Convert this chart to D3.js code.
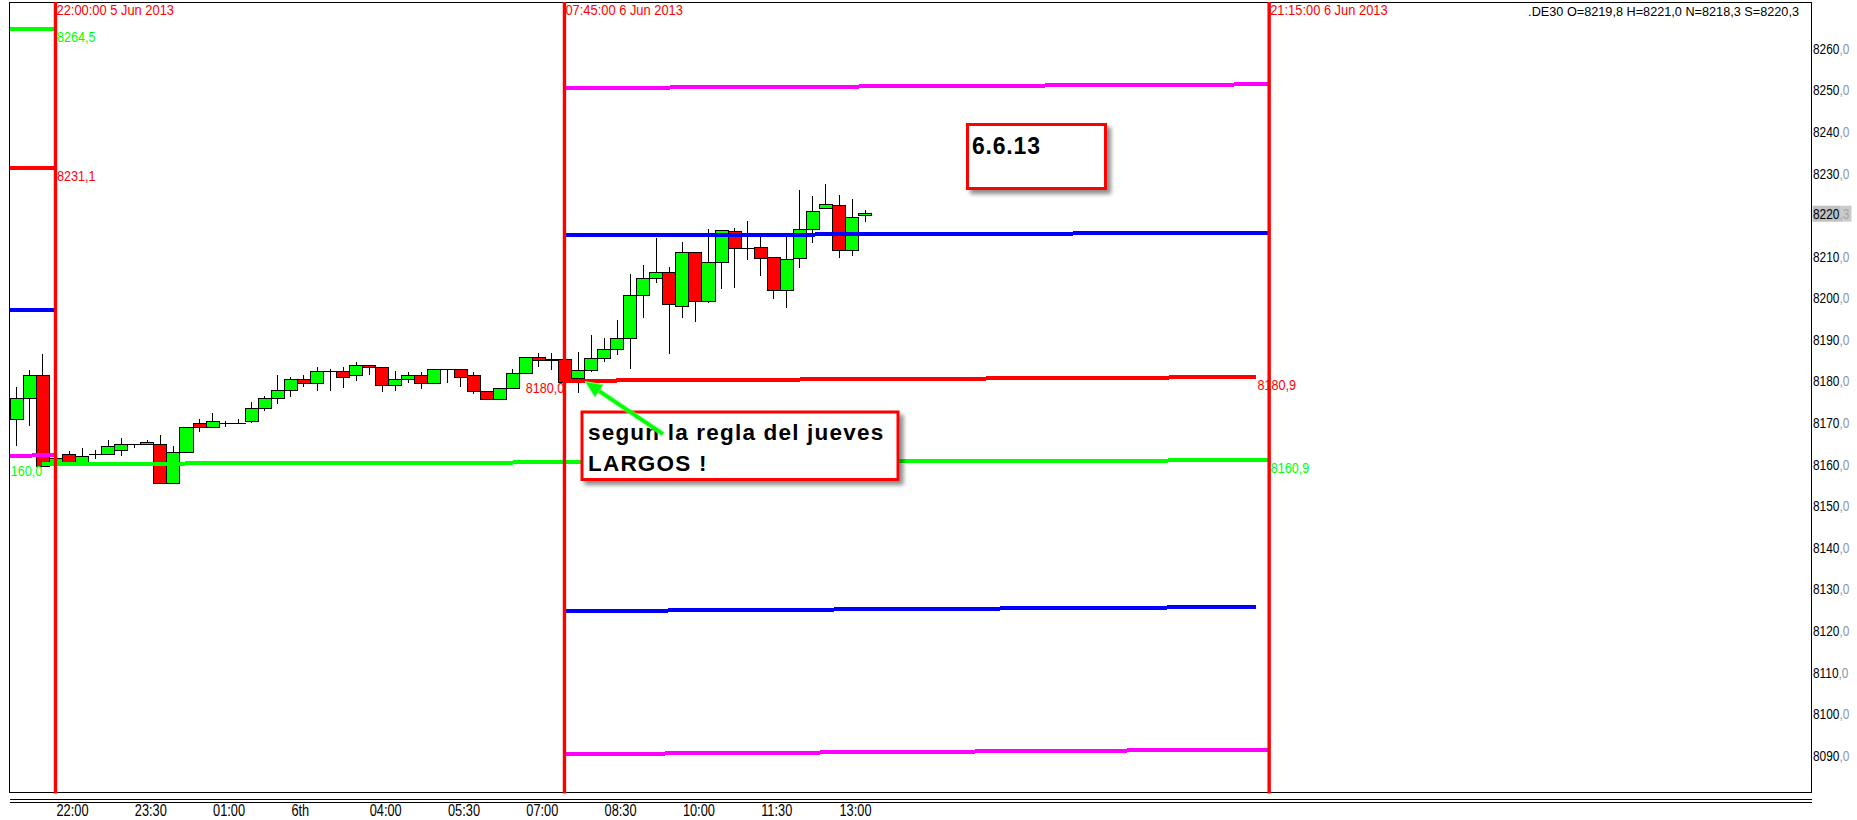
<!DOCTYPE html>
<html><head><meta charset="utf-8">
<script src="https://cdn.jsdelivr.net/npm/d3@7"></script>
<style>
html,body{margin:0;padding:0;background:#fff;}
svg{display:block;}
text{font-family:"Liberation Sans",Arial,sans-serif;}
</style></head><body>
<svg id="chart" width="1857" height="820"></svg>
<script>
// ---------------- DATA ----------------
const firstCandle = "2013-06-05T21:15:00";   // 15-minute candles, .DE30
const open  = [8170.7,8175.8,8181.4,8159.8,8162.3,8160.2,8162.3,8162.3,8163.3,8164.7,8164.7,8164.7,8155.35,8162.8,8169.8,8168.8,8169.8,8169.8,8170.3,8173.4,8175.8,8177.7,8180.4,8179.4,8182.3,8182.3,8181.3,8183.7,8183.25,8178.9,8180.4,8181.3,8179.4,8182.8,8182.8,8181.3,8177.6,8175.7,8178.2,8181.8,8185.8,8185.0,8185.3,8180.6,8182.5,8185.4,8187.6,8190.2,8200.6,8204.7,8206.1,8197.9,8210.9,8199.1,8208.5,8216.0,8212.0,8212.1,8209.7,8201.8,8209.5,8216.45,8221.6,8222.2,8211.5,8219.8];
const high  = [8178.4,8182.6,8186.5,8161.6,8163.0,8163.9,8163.4,8165.8,8166.2,8164.9,8165.8,8167.0,8164.3,8168.8,8170.8,8172.3,8170.3,8170.8,8174.9,8176.4,8181.4,8180.85,8181.4,8183.4,8182.8,8183.4,8184.4,8183.7,8183.25,8182.45,8182.2,8182.2,8182.8,8182.8,8182.8,8182.0,8177.6,8178.2,8182.8,8185.8,8186.8,8186.8,8185.5,8186.9,8191.1,8190.2,8194.6,8205.7,8207.9,8214.4,8207.3,8213.4,8210.9,8216.5,8216.2,8216.7,8218.45,8214.7,8209.7,8214.7,8225.9,8224.5,8227.35,8224.7,8223.7,8221.0];
const low   = [8164.2,8169.1,8159.6,8159.6,8160.2,8160.0,8161.2,8162.3,8161.8,8163.8,8164.7,8155.35,8155.35,8162.8,8167.8,8168.8,8168.8,8169.8,8169.8,8172.8,8174.4,8176.2,8178.6,8177.6,8177.6,8178.2,8180.0,8181.3,8177.2,8177.6,8179.4,8178.1,8179.4,8179.4,8178.6,8176.8,8175.7,8175.7,8178.2,8181.8,8183.4,8182.6,8179.8,8177.0,8182.05,8184.6,8186.1,8182.85,8195.2,8203.4,8186.4,8195.2,8194.2,8198.8,8202.1,8202.4,8209.1,8205.1,8199.7,8197.6,8207.2,8213.2,8221.6,8209.5,8210.1,8218.3];
const close = [8175.8,8181.4,8159.6,8161.4,8160.2,8161.8,8162.3,8164.3,8164.7,8164.7,8165.2,8155.35,8162.8,8168.8,8168.8,8170.3,8169.8,8169.8,8173.4,8175.8,8177.7,8180.4,8179.4,8182.3,8182.3,8180.85,8183.7,8183.25,8178.9,8180.4,8181.3,8179.4,8182.8,8182.8,8180.85,8177.6,8175.7,8178.2,8181.8,8185.8,8185.0,8185.3,8179.8,8182.5,8185.4,8187.6,8190.2,8200.6,8204.7,8206.1,8198.4,8210.9,8199.1,8208.5,8216.2,8211.9,8212.0,8209.6,8201.8,8209.2,8216.45,8220.8,8222.5,8211.5,8219.3,8220.3];

// visible time / price window
const timeDomain  = ["2013-06-05T21:07:42", "2013-06-07T07:37:48"];
const priceDomain = [8081.1, 8271.1];

// x-axis
const xTickTimes  = ["2013-06-05T22:00:00","2013-06-05T23:30:00","2013-06-06T01:00:00","2013-06-06T02:30:00","2013-06-06T04:00:00","2013-06-06T05:30:00","2013-06-06T07:00:00","2013-06-06T08:30:00","2013-06-06T10:00:00","2013-06-06T11:30:00","2013-06-06T13:00:00"];
const xTickLabels = ["22:00","23:30","01:00","6th","04:00","05:30","07:00","08:30","10:00","11:30","13:00"];
// y-axis
const yTicks = [8260,8250,8240,8230,8220.3,8210,8200,8190,8180,8170,8160,8150,8140,8130,8120,8110,8100,8090];
const lastPrice = 8220.3;

// session separators
const sessionTimes  = ["2013-06-05T22:00:00","2013-06-06T07:45:00","2013-06-06T21:15:00"];
const sessionLabels = ["22:00:00 5 Jun 2013","07:45:00 6 Jun 2013","21:15:00 6 Jun 2013"];

// horizontal level lines
const levelColors = ["#00ff00","#ff0000","#0000ff","#ff00ff","#ff00ff","#0000ff","#ff0000","#00ff00","#0000ff","#ff00ff"];
const levelFrom   = ["2013-06-05T20:45:00","2013-06-05T20:45:00","2013-06-05T20:45:00","2013-06-05T20:45:00","2013-06-06T07:45:00","2013-06-06T07:45:00","2013-06-06T07:45:00","2013-06-05T21:45:00","2013-06-06T07:45:00","2013-06-06T07:45:00"];
const levelTo     = ["2013-06-05T22:00:00","2013-06-05T22:00:00","2013-06-05T22:00:00","2013-06-05T22:00:00","2013-06-06T21:15:00","2013-06-06T21:15:00","2013-06-06T21:00:00","2013-06-06T21:15:00","2013-06-06T21:00:00","2013-06-06T21:15:00"];
const levelStartVal = [8264.5,8231.1,8197.0,8161.9,8250.4,8214.95,8180.0,8160.0,8124.6,8090.2];
const levelEndVal   = [8264.5,8231.1,8197.0,8162.1,8251.3,8215.6,8180.9,8160.9,8125.6,8091.3];
// level labels
const labelText  = ["8264,5","8231,1","160,0","8180,0","8180,9","8160,9"];
const labelLevel = [0,1,7,6,6,7];
const labelSide  = ["end","end","start","start","end","end"];

const headerText = ".DE30 O=8219,8 H=8221,0 N=8218,3 S=8220,3";
const note1 = ["6.6.13"];
const note2 = ["segun la regla del jueves","LARGOS !"];

// ---------------- LAYOUT ----------------
const P = {left:10, right:1811, top:2, bottom:792};
const FONT = '"Liberation Sans",Arial,sans-serif';
const parse = d3.utcParse("%Y-%m-%dT%H:%M:%S");
const svg = d3.select("#chart");

const x = d3.scaleUtc().domain(timeDomain.map(parse)).range([P.left, P.right]);
const y = d3.scaleLinear().domain(priceDomain).range([P.bottom, P.top]);

const t0 = parse(firstCandle);
const candles = open.map((o,i)=>({t: d3.utcMinute.offset(t0, 15*i), o, h:high[i], l:low[i], c:close[i]}));
const bw = x(d3.utcMinute.offset(t0,15)) - x(t0);

const defs = svg.append("defs");
defs.append("clipPath").attr("id","plotclip").append("rect")
  .attr("x",P.left).attr("y",P.top).attr("width",P.right-P.left).attr("height",P.bottom-P.top);
const f = defs.append("filter").attr("id","shadow").attr("x","-10%").attr("y","-10%").attr("width","130%").attr("height","150%");
f.append("feGaussianBlur").attr("in","SourceAlpha").attr("stdDeviation",2.2).attr("result","b");
f.append("feOffset").attr("in","b").attr("dx",4).attr("dy",4).attr("result","o");
f.append("feComponentTransfer").attr("in","o").attr("result","s").append("feFuncA").attr("type","linear").attr("slope",0.45);
const fm = f.append("feMerge"); fm.append("feMergeNode").attr("in","s"); fm.append("feMergeNode").attr("in","SourceGraphic");

function ntext(g, px, py, str, size, color, anchor, sx){
  return g.append("text").attr("transform",`translate(${px},${py}) scale(${sx||0.82},1)`)
    .attr("font-size",size).attr("fill",color).attr("text-anchor",anchor||"start").text(str);
}

// background
svg.append("rect").attr("width",1857).attr("height",820).attr("fill","#fff");

const plot = svg.append("g").attr("clip-path","url(#plotclip)");

// candles
const cg = plot.append("g").attr("shape-rendering","crispEdges");
cg.selectAll("line.wick").data(candles).join("line")
  .attr("x1",d=>Math.round(x(d.t))+0.5).attr("x2",d=>Math.round(x(d.t))+0.5)
  .attr("y1",d=>y(d.h)).attr("y2",d=>y(d.l)).attr("stroke","#000").attr("stroke-width",1);
cg.selectAll("path.body").data(candles).join("path")
  .attr("d",d=>{
    const x0 = Math.round(x(d.t)-bw/2)+0.5, x1 = Math.round(x(d.t)+bw/2)+0.5;
    const ya = Math.round(y(Math.max(d.o,d.c)))+0.5, yb = Math.round(y(Math.min(d.o,d.c)))+0.5;
    return `M${x0},${ya}H${x1}V${yb}H${x0}Z`;
  })
  .attr("fill",d=>d.c>=d.o?"#00ff00":"#ff0000").attr("stroke","#000").attr("stroke-width",1);

// level lines
const lg = plot.append("g").attr("shape-rendering","crispEdges");
levelColors.forEach((col,i)=>{
  lg.append("line")
    .attr("x1",x(parse(levelFrom[i]))).attr("x2",x(parse(levelTo[i])))
    .attr("y1",y(levelStartVal[i])).attr("y2",y(levelEndVal[i]))
    .attr("stroke",col).attr("stroke-width",4);
});
// level labels
const tg = svg.append("g");
labelText.forEach((s,k)=>{
  const li = labelLevel[k];
  const atEnd = labelSide[k]==="end";
  const px = atEnd ? x(parse(levelTo[li]))+1.5 : x(parse(levelFrom[li]))-0.3;
  const v = atEnd ? levelEndVal[li] : levelStartVal[li];
  ntext(tg, px, y(v)+12.5, s, 15, levelColors[li], atEnd?"start":"end", 0.84);
});

// frame
svg.append("rect").attr("x",P.left-0.5).attr("y",P.top+0.5).attr("width",P.right-P.left+1).attr("height",P.bottom-P.top)
  .attr("fill","none").attr("stroke","#000").attr("stroke-width",1).attr("shape-rendering","crispEdges");
[799.5,802.5].forEach(yy=>svg.append("line").attr("x1",P.left).attr("x2",P.right+0.5).attr("y1",yy).attr("y2",yy)
  .attr("stroke","#000").attr("stroke-width",1).attr("shape-rendering","crispEdges"));

// session separators
sessionTimes.forEach((s,i)=>{
  const sx = x(parse(s));
  svg.append("line").attr("x1",sx).attr("x2",sx).attr("y1",P.top).attr("y2",P.bottom+1.5)
    .attr("stroke","#ff0000").attr("stroke-width",3.4);
  ntext(svg, sx+1, 15, sessionLabels[i], 15, "#ff0000", "start", 0.86);
});

// header
svg.append("text").attr("x",1799).attr("y",16).attr("text-anchor","end").attr("font-size",12.7)
  .attr("fill","#000").text(headerText);

// x axis
const xa = svg.append("g").attr("transform",`translate(0,816)`)
  .call(d3.axisBottom(x).tickValues(xTickTimes.map(parse)).tickFormat((d,i)=>xTickLabels[i]).tickSize(0).tickPadding(0));
xa.select(".domain").remove();
xa.selectAll("text").attr("y",0).attr("dy",0).attr("text-anchor","start")
  .attr("font-family",FONT).attr("font-size",16).attr("fill","#000")
  .attr("transform","translate(0.5,0) scale(0.8,1)");

// y axis
const ya = svg.append("g").attr("transform",`translate(${P.right+2},0)`)
  .call(d3.axisRight(y).tickValues(yTicks).tickSize(0).tickPadding(0).tickFormat(d=>""));
ya.select(".domain").remove();
ya.selectAll(".tick").each(function(d){
  const g = d3.select(this);
  const isLast = Math.abs(d-lastPrice)<1e-6;
  if(isLast){
    g.insert("rect","text").attr("x",-0.5).attr("y",-8).attr("width",27.5).attr("height",16).attr("fill","#c0c0c0");
    g.insert("rect","text").attr("x",27).attr("y",-8).attr("width",11.5).attr("height",16).attr("fill","#cbcbcb");
  }
  const parts = d3.format(".1f")(d).split(".");
  const t = g.select("text").attr("x",0).attr("dy",null).attr("y",5.2)
    .attr("font-family",FONT).attr("font-size",14.5).attr("transform","scale(0.82,1)").text(null);
  t.append("tspan").attr("fill","#000").text(parts[0]);
  t.append("tspan").attr("fill",isLast?"#a6a6a6":"#8a96a3").text(","+parts[1]);
});

// annotation boxes
const a1 = svg.append("g");
a1.append("rect").attr("x",967.5).attr("y",124.5).attr("width",138).attr("height",64)
  .attr("fill","#fff").attr("stroke","#ff0000").attr("stroke-width",3).attr("filter","url(#shadow)");
a1.append("text").attr("x",972).attr("y",153.5).attr("font-size",23).attr("font-weight","bold")
  .attr("letter-spacing",0.8).attr("fill","#000").text(note1[0]);

const a2 = svg.append("g");
a2.append("rect").attr("x",582).attr("y",412).attr("width",316).attr("height",67.5)
  .attr("fill","#fff").attr("stroke","#ff0000").attr("stroke-width",3).attr("filter","url(#shadow)");
a2.append("text").attr("x",588).attr("y",440).attr("font-size",22.5).attr("font-weight","bold")
  .attr("letter-spacing",1.2).attr("fill","#000").text(note2[0]);
a2.append("text").attr("x",588).attr("y",470.7).attr("font-size",22.5).attr("font-weight","bold")
  .attr("letter-spacing",1.2).attr("fill","#000").text(note2[1]);

// arrow
const tip = [585, 381.5], tail = [663, 434];
const ang = Math.atan2(tail[1]-tip[1], tail[0]-tip[0]);
const hl = 17, hw = 7.5;
const bx = tip[0]+hl*Math.cos(ang), by = tip[1]+hl*Math.sin(ang);
const ag = svg.append("g");
ag.append("line").attr("x1",tail[0]).attr("y1",tail[1]).attr("x2",bx).attr("y2",by)
  .attr("stroke","#7dff7d").attr("stroke-width",5.5).attr("opacity",0.6);
ag.append("line").attr("x1",tail[0]).attr("y1",tail[1]).attr("x2",bx).attr("y2",by)
  .attr("stroke","#00ff00").attr("stroke-width",3.5);
ag.append("polygon").attr("points",[
  tip, [bx - hw*Math.sin(ang), by + hw*Math.cos(ang)], [bx + hw*Math.sin(ang), by - hw*Math.cos(ang)]
].map(p=>p.join(",")).join(" ")).attr("fill","#00ff00").attr("stroke","#7dff7d").attr("stroke-width",1);
</script>
</body></html>
